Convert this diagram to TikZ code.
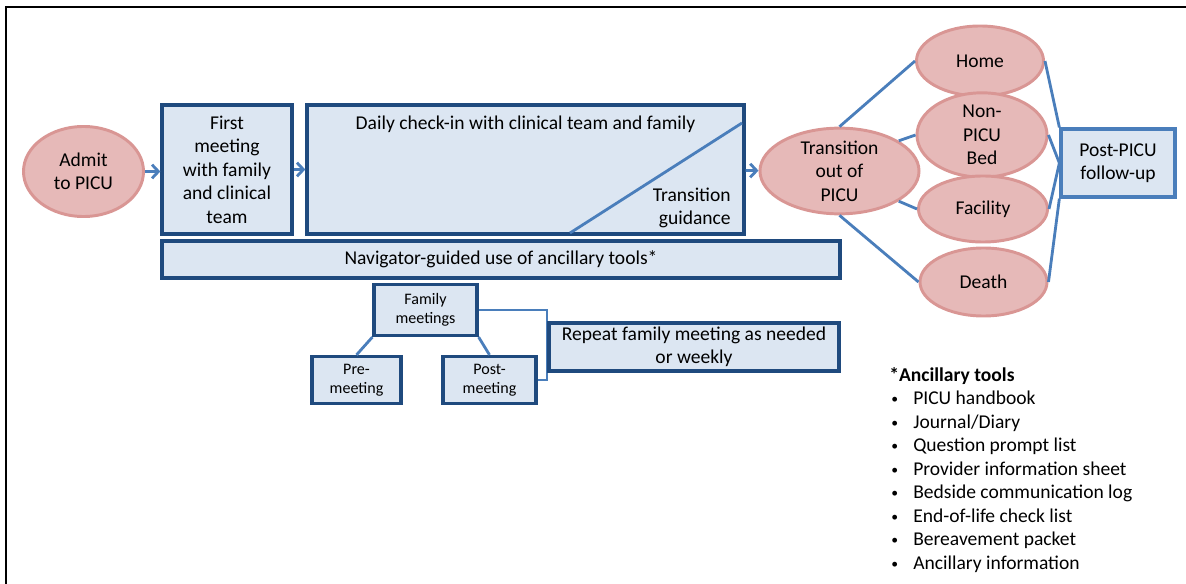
\documentclass[tikz,border=0pt]{standalone}
\usepackage{fontspec}
\setmainfont{Carlito}
\usetikzlibrary{arrows.meta,positioning,shapes.geometric,backgrounds}
\definecolor{boxfill}{HTML}{DCE6F2}
\definecolor{boxline}{HTML}{1F4A7E}
\definecolor{ovfill}{HTML}{E6B9B8}
\definecolor{ovline}{HTML}{D99694}
\definecolor{lnblue}{HTML}{4A7EBB}
\newcommand{\bigtxt}{\fontsize{13.9}{16.7}\selectfont}
\newcommand{\smalltxt}{\fontsize{11.4}{13.6}\selectfont}
\newcommand{\tb}{\makebox[0.6cm][l]{\hspace{0.05cm}\raisebox{0.02cm}{\scalebox{0.7}{\textbullet}}}}

\begin{document}
\begin{tikzpicture}[
    x=0.025cm, y=-0.025cm,
    bx/.style={draw=boxline, line width=2.3pt, fill=boxfill, inner sep=0pt, align=center, font=\bigtxt},
    sbx/.style={bx, font=\smalltxt},
    ov/.style={ellipse, draw=ovline, line width=2.1pt, fill=ovfill, inner sep=0pt, align=center, font=\bigtxt},
    txt/.style={inner sep=0pt, align=center, font=\bigtxt},
    arr/.style={-{Straight Barb[length=1.6mm, width=3.4mm]}, line width=2pt, lnblue},
    ln/.style={line width=2pt, lnblue},
    brk/.style={line width=1.5pt, lnblue}
]
\useasboundingbox (0,0) rectangle (1186,584);
\draw[line width=2.1pt] (6,584) -- (6,7) -- (1186,7);

% admission and daily care
\node[ov, minimum width=3cm, minimum height=2.25cm] (admit) at (83.5,171.5) {Admit\\to PICU};
\node[bx, minimum width=3.25cm, minimum height=3.225cm] (first) at (227,169.5) {First\\meeting\\with family\\and clinical\\team};
\node[bx, minimum width=10.925cm, minimum height=3.225cm] (daily) at (525.5,169.5) {};
\node[txt, below=0.3cm of daily.north] (dailytxt) {Daily check-in with clinical team and family};
\node[txt, align=right, anchor=east] (guide) at (731,208) {Transition\\guidance};
\coordinate (gd1) at (570,233);
\coordinate (gd2) at (742,123);
\draw[ln] (gd1) -- (gd2);
\node[bx, minimum width=16.95cm, minimum height=0.925cm] (nav) at (501,259.5) {Navigator-guided use of ancillary tools*};

% transition and outcomes
\node[ov, minimum width=3.975cm, minimum height=2cm] (trans) at (839.5,171) {Transition\\out of\\PICU};
\node[ov, minimum width=3.175cm, minimum height=1.75cm] (home) at (980,61) {Home};
\node[ov, minimum width=3.25cm, minimum height=1.8cm] (nonpicu) at (982,135) {Non-\\PICU\\Bed};
\node[ov, minimum width=3.225cm, minimum height=1.65cm] (facility) at (983,209) {Facility};
\node[ov, minimum width=3.175cm, minimum height=1.7cm] (death) at (983.5,282) {Death};
\node[bx, draw=lnblue, minimum width=2.85cm, minimum height=1.7cm] (post) at (1118,163) {Post-PICU\\follow-up};

% family meetings
\node[sbx, minimum width=2.575cm, minimum height=1.275cm] (family) at (425.5,310) {Family\\meetings};
\node[sbx, minimum width=2.225cm, minimum height=1.175cm] (pre) at (356.5,380) {Pre-\\meeting};
\node[sbx, minimum width=2.325cm, minimum height=1.175cm] (postm) at (489.5,380) {Post-\\meeting};
\node[bx, minimum width=7.25cm, minimum height=1.2cm] (repeat) at (694,347) {Repeat family meeting as needed\\or weekly};

% ancillary tools
\node[txt, anchor=north west, align=left] (tools) at (889,367) {\textbf{*Ancillary tools}\\
\tb PICU handbook\\
\tb Journal/Diary\\
\tb Question prompt list\\
\tb Provider information sheet\\
\tb Bedside communication log\\
\tb End-of-life check list\\
\tb Bereavement packet\\
\tb Ancillary information};

\draw[arr] (admit.east) -- (admit.east -| first.west);
\draw[arr] (first) -- (daily);
\draw[arr] (daily) -- (trans);
\draw[ln] (trans.north) -- (home.west);
\draw[ln] (trans.27) -- (nonpicu.west);
\draw[ln] (trans.-27) -- (facility.west);
\draw[ln] (trans.south) -- (death.west);
\draw[ln] (home.east) -- (post.north west);
\draw[ln] (nonpicu.east) -- (post.west);
\draw[ln] (facility.east) -- (post.west);
\draw[ln] (death.east) -- (post.south west);
\draw[ln] (family.south west) -- (pre.north);
\draw[ln] (family.south east) -- (postm.north);
\begin{scope}[on background layer]
\draw[brk] (family.east) -| (repeat.west);
\draw[brk] (postm.east) -| (repeat.west);
\end{scope}
\end{tikzpicture}
\end{document}
